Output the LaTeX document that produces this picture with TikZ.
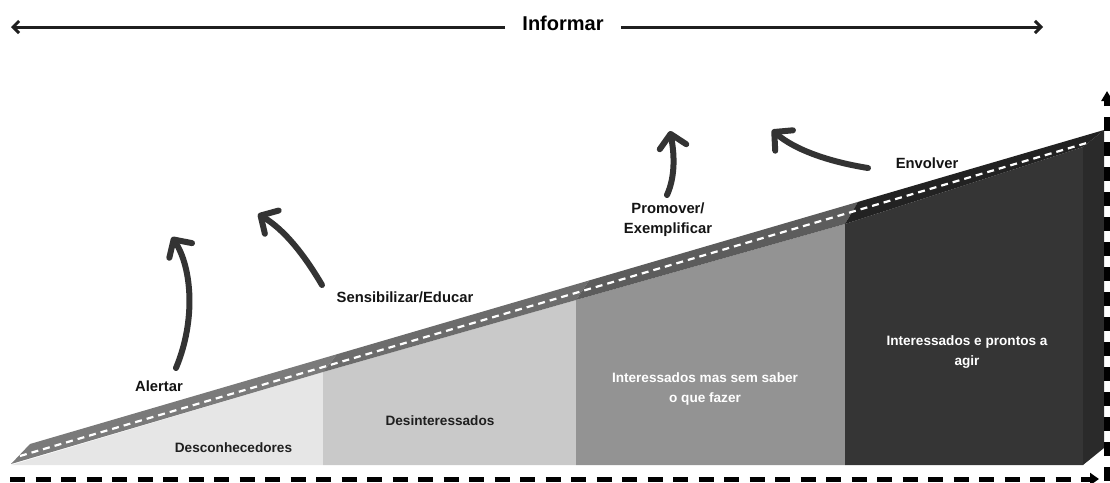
\documentclass[tikz,border=0pt]{standalone}
\usepackage{fontspec}
\setmainfont{Liberation Sans}
\usetikzlibrary{arrows.meta}
\definecolor{rA}{HTML}{E6E6E6}
\definecolor{rB}{HTML}{C9C9C9}
\definecolor{rC}{HTML}{939393}
\definecolor{rD}{HTML}{353535}
\definecolor{rSide}{HTML}{2A2A2A}
\definecolor{roadA}{HTML}{7A7A7A}
\definecolor{roadB}{HTML}{6C6C6C}
\definecolor{roadC}{HTML}{5C5C5C}
\definecolor{roadD}{HTML}{222222}
\definecolor{arrowgray}{HTML}{333333}
\begin{document}
\begin{tikzpicture}[x=1pt,y=-1pt,
  lab/.style={font=\fontsize{14.8}{20.5}\selectfont\bfseries, text=black!92, inner sep=0pt, align=center},
  reglab/.style={font=\fontsize{13.6}{19.5}\selectfont\bfseries, inner sep=0pt, align=center},
  bendarrow/.style={line width=6pt, draw=arrowgray, line cap=round,
    -{Straight Barb[length=13pt,width=27pt,round]}},
  dashedaxis/.style={line width=5pt, draw=black, dash pattern=on 15pt off 10.5pt},
  toparrow/.style={line width=3pt, draw=black!88, -{Straight Barb[length=6pt,width=12pt]}},
]
\useasboundingbox (0,0) rectangle (1110,482);

% regions
\fill[rA] (11,465) -- (323,372) -- (323,465) -- cycle;
\fill[rB] (323,372) -- (576,300) -- (576,465) -- (323,465) -- cycle;
\fill[rC] (576,300) -- (845,224) -- (845,465) -- (576,465) -- cycle;
\fill[rD] (845,224) -- (1083,147) -- (1083,465) -- (845,465) -- cycle;
\fill[rSide] (1083,147) -- (1104,130) -- (1104,448) -- (1083,465) -- cycle;

% road band
\fill[roadA] (11,464) -- (30,444) -- (337,354.2) -- (323,372) -- cycle;
\fill[roadB] (323,372) -- (337,354.2) -- (589,280.5) -- (576,300) -- cycle;
\fill[roadC] (576,300) -- (589,280.5) -- (858,201.9) -- (845,224) -- cycle;
\fill[roadD] (845,224) -- (858,201.9) -- (1104,130) -- (1083,147) -- cycle;

% centre line
\coordinate (cl1) at (20,456);
\coordinate (cl2) at (1090,142);
\draw[white, line width=2.2pt, dash pattern=on 7pt off 5pt] (cl1) -- (cl2);

% axes
\coordinate (bx1) at (10,479);
\coordinate (bx2) at (1099,479);
\draw[dashedaxis, -{Triangle[length=9pt,width=12pt]}] (bx1) -- (bx2);
\coordinate (vy1) at (1107,481);
\coordinate (vy2) at (1107,91);
\draw[dashedaxis, line width=5.5pt, dash pattern=on 14pt off 11pt, -{Triangle[length=10pt,width=11pt]}] (vy1) -- (vy2);

% top arrow
\node[font=\fontsize{20}{24}\selectfont\bfseries, inner ysep=0pt, inner xsep=17pt] (inf) at (563,23) {Informar};
\coordinate (lt) at (11,27);
\coordinate (rt) at (1043,27);
\draw[toparrow] (inf.west |- lt) -- (lt);
\draw[toparrow] (inf.east |- rt) -- (rt);

% labels
\node[lab] (alertar) at (159,386) {Alertar};
\node[lab] (sens) at (405,297.5) {Sensibilizar/Educar};
\node[lab] (prom) at (668,219.5) {Promover/\\Exemplificar};
\node[lab] (envol) at (927,163) {Envolver};

\node[reglab, text=black!88] (desc) at (233.5,448) {Desconhecedores};
\node[reglab, text=black!88] (desi) at (440,421) {Desinteressados};
\node[reglab, text=white] (imss) at (705,389) {Interessados mas sem saber\\o que fazer};
\node[reglab, text=white] (ipa) at (967,352) {Interessados e prontos a\\agir};

% curved arrows
\coordinate (a1s) at (176,368);
\coordinate (a1e) at (172,237);
\draw[bendarrow] (a1s) .. controls (196,320) and (192,268) .. (a1e);
\coordinate (a2s) at (322,285);
\coordinate (a2e) at (258,214);
\draw[bendarrow] (a2s) .. controls (305,256) and (285,230) .. (a2e);
\coordinate (a3s) at (667,195);
\coordinate (a3e) at (670,131);
\draw[bendarrow] (a3s) .. controls (676,175) and (674,152) .. (a3e);
\coordinate (a4s) at (868,168);
\coordinate (a4e) at (772,130);
\draw[bendarrow] (a4s) .. controls (830,162) and (795,150) .. (a4e);
\end{tikzpicture}
\end{document}
